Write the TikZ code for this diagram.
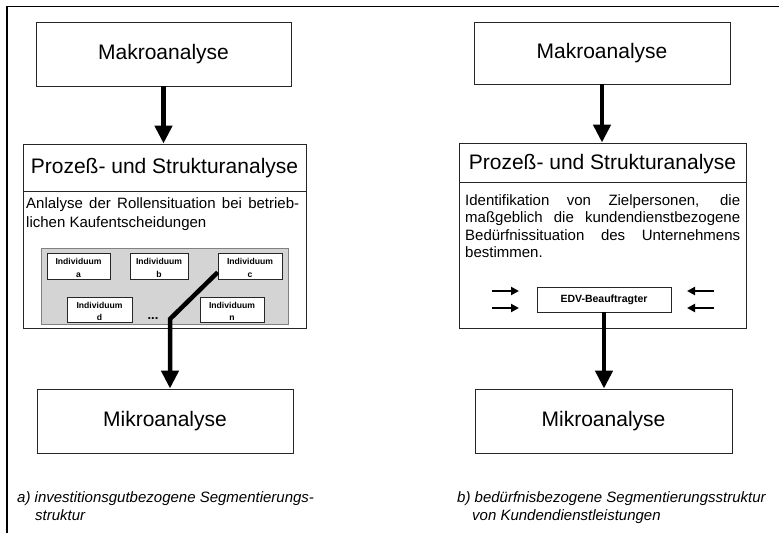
\documentclass[tikz,border=0pt]{standalone}
\usepackage{fontspec}
\setmainfont{Liberation Sans}
\usetikzlibrary{arrows.meta,calc}
\newcommand\mkindiv[6]{% name, cx, cy, width, height, letter
  \node[indbox, minimum width=#4pt, minimum height=#5pt] (#1) at (#2,#3) {};
  \node[tinytxt] (#1t) at ([yshift=-12pt]#1.north) {Individuum};
  \node[tinytxt] (#1l) at ([yshift=-(#5pt-1pt)]#1.north) {#6};
}
\begin{document}
\begin{tikzpicture}[x=1pt,y=-1pt,
  box/.style={draw=black!85, line width=0.9pt, fill=white, inner sep=0pt,
    font=\fontsize{21}{25}\selectfont},
  headtxt/.style={inner sep=0pt, font=\fontsize{21}{25}\selectfont},
  sepline/.style={draw=black!85, line width=0.9pt},
  indbox/.style={draw=black!85, line width=0.7pt, fill=white, inner sep=0pt},
  tinytxt/.style={inner sep=0pt, anchor=base, font=\fontsize{8.6}{9}\selectfont\bfseries},
  body/.style={inner sep=0pt, anchor=base west, font=\fontsize{15}{17}\selectfont},
  captxt/.style={inner sep=0pt, anchor=base west, font=\fontsize{15}{17}\selectfont\itshape},
  bigarrow/.style={line width=4.5pt, -{Triangle[width=17pt,length=18pt]}},
  smallarrow/.style={line width=2.2pt, -{Triangle[width=8pt,length=8pt]}}
]
\useasboundingbox (0,0) rectangle (779,533);
% outer frame
\draw[line width=1.4pt] (7,533) -- (7,6.5) -- (779,6.5);

% ---------------- left diagram ----------------
\node[box, minimum width=255pt, minimum height=64pt] (makroL) at (163.5,54) {Makroanalyse};
\node[box, minimum width=283pt, minimum height=184pt] (prozL) at (164.5,236) {};
\node[headtxt] (prozLh) at (164.5,168) {Prozeß- und Strukturanalyse};
\draw[sepline] (prozL.west |- 0,191) -- (prozL.east |- 0,191);
\node[body] (tL1) at (26,208) {\makebox[273pt][s]{Anlalyse der Rollensituation bei betrieb-}};
\node[body] (tL2) at (26,227) {lichen Kaufentscheidungen};
\node[draw=black!50, fill=black!17, line width=0.6pt, inner sep=0pt,
  minimum width=247pt, minimum height=76pt] (shade) at (164.5,286) {};
\mkindiv{ia}{78.5}{266}{63}{26}{a}
\mkindiv{ib}{159}{266}{58}{26}{b}
\mkindiv{ic}{250}{266}{64}{26}{c}
\mkindiv{id}{99.5}{309.5}{65}{25}{d}
\mkindiv{in}{232}{309.5}{64}{25}{n}
\node[inner sep=0pt, anchor=base, font=\fontsize{13}{14}\selectfont\bfseries] (dots) at (153,319) {...};
\node[box, minimum width=256pt, minimum height=64pt] (mikroL) at (165,421) {Mikroanalyse};
\coordinate (bend) at (170,319);
\draw[bigarrow] (makroL.south) -- (makroL.south |- prozL.north);
\draw[bigarrow] ([yshift=7pt]ic.south west) -- (bend) -- (bend |- mikroL.north);
\node[captxt] (capa1) at (17,502) {a) investitionsgutbezogene Segmentierungs-};
\node[captxt] (capa2) at (35,520) {struktur};

% ---------------- right diagram ----------------
\node[box, minimum width=256pt, minimum height=62pt] (makroR) at (602,53) {Makroanalyse};
\node[box, minimum width=287pt, minimum height=185pt] (prozR) at (602.5,235.5) {};
\node[headtxt] (prozRh) at (602.5,164) {Prozeß- und Strukturanalyse};
\draw[sepline] (prozR.west |- 0,182) -- (prozR.east |- 0,182);
\node[body] (tR1) at (465,205) {\makebox[275pt][s]{Identifikation von Zielpersonen, die}};
\node[body] (tR2) at (465,222.5) {\makebox[275pt][s]{maßgeblich die kundendienstbezogene}};
\node[body] (tR3) at (465,240) {\makebox[275pt][s]{Bedürfnissituation des Unternehmens}};
\node[body] (tR4) at (465,257) {bestimmen.};
\node[indbox, line width=0.9pt, minimum width=134pt, minimum height=25pt,
  font=\fontsize{10.5}{12}\selectfont\bfseries] (edv) at (604,299.5) {EDV-Beauftragter};
\coordinate (la1s) at (492,291); \coordinate (la1e) at (519,291);
\coordinate (la2s) at (492,308); \coordinate (la2e) at (519,308);
\coordinate (ra1s) at (714,291); \coordinate (ra1e) at (687,291);
\coordinate (ra2s) at (714,308); \coordinate (ra2e) at (687,308);
\draw[smallarrow] (la1s) -- (la1e);
\draw[smallarrow] (la2s) -- (la2e);
\draw[smallarrow] (ra1s) -- (ra1e);
\draw[smallarrow] (ra2s) -- (ra2e);
\node[box, minimum width=257pt, minimum height=64pt] (mikroR) at (603.5,421) {Mikroanalyse};
\draw[bigarrow] (makroR.south) -- (makroR.south |- prozR.north);
\draw[bigarrow] (edv.south) -- (edv.south |- mikroR.north);
\node[captxt] (capb1) at (457,502) {b) bedürfnisbezogene Segmentierungsstruktur};
\node[captxt] (capb2) at (472,520) {von Kundendienstleistungen};
\end{tikzpicture}
\end{document}
